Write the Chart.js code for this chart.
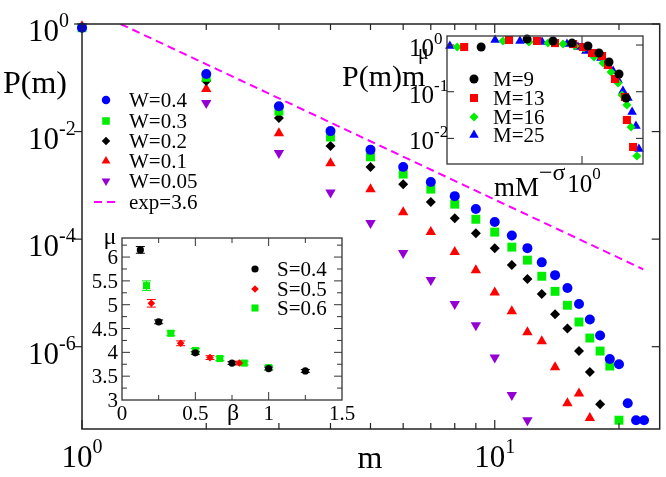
<!DOCTYPE html>
<html>
<head>
<meta charset="utf-8">
<script src="https://cdn.jsdelivr.net/npm/chart.js@4.4.1/dist/chart.umd.min.js"></script>
<style>
  body { margin: 0; background: #fff; }
  #wrap { position: relative; width: 666px; height: 477px; overflow: hidden; }
  canvas { position: absolute; }
  #labels { position: absolute; left: 0; top: 0; width: 666px; height: 477px; pointer-events: none; }
</style>
</head>
<body>
<div id="wrap">
  <canvas id="mainChart" width="666" height="477" style="left:0;top:0"></canvas>
  <canvas id="scaleInset" width="325" height="177" style="left:335px;top:28px"></canvas>
  <canvas id="muInset" width="265" height="203" style="left:85px;top:222px"></canvas>
  <div id="labels" style="font-family:'Liberation Serif'"></div>
</div>
<script>
// --- main plot: P(m) against m, one series per W ---
const mW04 = [1,2,3,4,5,6,7,8,9,10,11,12,13,14,15,16,17,18,19,20,21,22,23];
const pW04 = [0.851,0.1175,0.0295,0.0102,4.57e-3,2.19e-3,1.15e-3,6.3e-4,3.63e-4,2.09e-4,1.17e-4,6.8e-5,3.7e-5,2.14e-5,1.23e-5,6.2e-6,3.2e-6,1.62e-6,5.9e-7,4.7e-7,8.9e-8,4.3e-8,4.3e-8];
const mW03 = [1,2,3,4,5,6,7,8,9,10,11,12,13,14,15,16,17,18,19,20];
const pW03 = [0.851,0.102,0.024,7.9e-3,3.39e-3,1.62e-3,8.5e-4,4.47e-4,2.34e-4,1.35e-4,7.1e-5,4.07e-5,2.04e-5,1.07e-5,5.9e-6,2.88e-6,1.45e-6,8.3e-7,4.37e-7,4.3e-8];
const mW02 = [1,2,3,4,5,6,7,8,9,10,11,12,13,14,15,16,17,18];
const pW02 = [0.851,0.087,0.0178,5.4e-3,2.19e-3,1.05e-3,4.9e-4,2.45e-4,1.29e-4,6.8e-5,3.3e-5,1.82e-5,9.5e-6,4.0e-6,2.19e-6,8.3e-7,3.4e-7,8.5e-8];
const mW01 = [1,2,3,4,5,6,7,8,9,10,11,12,13,14,15,16,17];
const pW01 = [0.91,0.0617,9.3e-3,2.57e-3,8.5e-4,3.16e-4,1.35e-4,5.75e-5,2.63e-5,1.02e-5,4.57e-6,1.86e-6,1.26e-6,4.17e-7,8.9e-8,1.35e-7,4.7e-8];
const mW005 = [1,2,3,4,5,6,7,8,9,10,11,12];
const pW005 = [0.91,0.0339,3.98e-3,7.4e-4,2.0e-4,5.5e-5,1.74e-5,6.2e-6,2.5e-6,6.3e-7,1.26e-7,4.3e-8];
// dashed guide with exponent 3.6, end points
const fitM = [1.24, 22.9];
const fitP = [1, 2.75e-5];
const wLabels = ['W=0.4', 'W=0.3', 'W=0.2', 'W=0.1', 'W=0.05', 'exp=3.6'];
const mainYExps = [0, -2, -4, -6];
const mainXExps = [0, 1];
const mainXMinor = [2,3,4,5,6,7,8,9,20];

// --- top-right inset: scaling collapse, one series per M ---
const xM9  = [0.179,0.392,0.610,0.843,1.107,1.336,1.585,1.88,2.12];
const yM9  = [0.906,1.34,1.22,1.10,0.953,0.674,0.433,0.239,0.0733];
const xM13 = [0.134,0.288,0.464,0.631,0.858,1.017,1.186,1.407,1.559,1.755,2.08,2.15,2.39];
const yM13 = [0.906,1.28,1.22,1.10,1.05,0.906,0.674,0.581,0.373,0.187,0.077,0.0248,0.00655];
const xM16 = [0.119,0.260,0.405,0.560,0.723,0.888,1.035,1.227,1.432,1.64,1.85,1.98,2.15,2.31,2.55];
const yM16 = [0.906,1.22,1.16,1.10,1.05,0.953,0.863,0.553,0.412,0.264,0.154,0.085,0.052,0.0175,0.0042];
const xM25 = [0.105,0.227,0.347,0.506,0.774,0.934,1.07,1.38,1.56,1.70,1.85,2.01,2.19,2.35,2.51,2.64];
const yM25 = [0.953,1.28,1.22,1.16,1.05,0.906,0.744,0.527,0.355,0.277,0.178,0.104,0.073,0.0367,0.0184,0.0059];
const mLabels = ['M=9', 'M=13', 'M=16', 'M=25'];
const insetYExps = [0, -1, -2];

// --- bottom-left inset: mu against beta, with error bars ---
const betaS04 = [0.125,0.25,0.5,0.75,1.0,1.25];
const muS04   = [6.15,4.64,3.99,3.775,3.66,3.61];
const errS04  = [0.07,0.04,0.03,0.03,0.03,0.03];
const betaS05 = [0.2,0.4,0.6,0.8];
const muS05   = [5.03,4.19,3.89,3.775];
const errS05  = [0.08,0.05,0.04,0.04];
const betaS06 = [0.167,0.333,0.5,0.667,0.833,1.0];
const muS06   = [5.40,4.40,4.04,3.87,3.775,3.68];
const errS06  = [0.1,0.05,0.04,0.04,0.04,0.04];
const sLabels = ['S=0.4', 'S=0.5', 'S=0.6'];
const betaTicks = ['0', '0.5', '1', '1.5'];
const muTicks = ['3', '3.5', '4', '4.5', '5', '5.5', '6'];

function pts(xs, ys) { return ys.map((v, i) => ({ x: xs[i], y: v })); }

function hline(ctx, x1, y1, x2, y2) {
  ctx.beginPath(); ctx.moveTo(x1, y1); ctx.lineTo(x2, y2); ctx.stroke();
}

// text goes into the overlay as page text
const overlay = document.getElementById('labels');
function label(html, x, y, size, align) {
  const s = document.createElement('span');
  s.innerHTML = html;
  const tx = align === 'center' ? '-50%' : align === 'right' ? '-100%' : '0';
  s.setAttribute('style',
    "position:absolute;line-height:1;white-space:nowrap;color:#000;font-family:'Liberation Serif';" +
    'left:' + x + 'px;top:' + y + 'px;font-size:' + size + 'px;transform:translate(' + tx + ',-50%)');
  overlay.appendChild(s);
}
function sup(t, size, dy) {
  return "<span style=\"position:relative;font-family:'Liberation Serif';font-size:" + size + 'px;top:' + dy + 'px">' + t + '</span>';
}
function expText(e) { return e === 0 ? '0' : '-' + Math.abs(e); }

function drawMark(ctx, shape, x, y, r, color) {
  ctx.fillStyle = color;
  ctx.beginPath();
  if (shape === 'circle') ctx.arc(x, y, r, 0, Math.PI * 2);
  else if (shape === 'rect') { const s = r * Math.SQRT1_2; ctx.rect(x - s, y - s, 2 * s, 2 * s); }
  else if (shape === 'rectRot') { ctx.moveTo(x, y - r); ctx.lineTo(x + r, y); ctx.lineTo(x, y + r); ctx.lineTo(x - r, y); ctx.closePath(); }
  else {
    const d = shape === 'triangle' ? 1 : -1;
    ctx.moveTo(x, y - d * r); ctx.lineTo(x + r * 0.866, y + d * r / 2); ctx.lineTo(x - r * 0.866, y + d * r / 2); ctx.closePath();
  }
  ctx.fill();
}

function fixedAxis(type, min, max, size, isX) {
  return {
    type: type, min: min, max: max,
    ticks: { display: false }, grid: { display: false }, border: { display: false },
    afterFit(s) { if (isX) s.height = size; else s.width = size; }
  };
}

function whiteArea(chart) {
  const a = chart.chartArea;
  chart.ctx.save();
  chart.ctx.fillStyle = '#fff';
  chart.ctx.fillRect(a.left, a.top, a.right - a.left, a.bottom - a.top);
  chart.ctx.restore();
}

const BLUE = '#0000ff', GREEN = '#00ee00', RED = '#ff0000', PURPLE = '#9400d3', MAGENTA = '#ff00ff';

const mainMarks = [
  { shape: 'circle', r: 5, color: BLUE },
  { shape: 'rect', r: 6.3, color: GREEN },
  { shape: 'rectRot', r: 5, color: '#000' },
  { shape: 'triangle', r: 6, color: RED },
  { shape: 'triangleDown', r: 6, color: PURPLE }
];
const mainRows = [100, 121, 141, 161, 181, 202];

function scatterSet(lbl, data, mk) {
  return {
    label: lbl, data: data, showLine: false, clip: false,
    pointStyle: mk.shape === 'triangleDown' ? 'triangle' : mk.shape,
    rotation: mk.shape === 'triangleDown' ? 180 : 0,
    pointRadius: mk.r, pointBackgroundColor: mk.color, pointBorderWidth: 0,
    backgroundColor: mk.color, borderColor: mk.color
  };
}

// ---------- 1. main chart ----------
const mainDecor = {
  id: 'mainDecor',
  afterDraw(chart) {
    const { ctx, chartArea: a, scales: { x, y } } = chart;
    ctx.save();
    ctx.strokeStyle = '#222';
    ctx.lineWidth = 1.5;
    ctx.strokeRect(a.left, a.top, a.right - a.left, a.bottom - a.top);
    ctx.lineWidth = 1.2;
    mainYExps.forEach(e => {
      const py = y.getPixelForValue(Math.pow(10, e));
      hline(ctx, a.left - 8, py, a.left, py);
      hline(ctx, a.right - 8, py, a.right, py);
    });
    mainXExps.forEach(e => {
      const px = x.getPixelForValue(Math.pow(10, e));
      hline(ctx, px, a.bottom, px, a.bottom - 9);
      hline(ctx, px, a.top, px, a.top + 9);
    });
    mainXMinor.forEach(v => {
      const px = x.getPixelForValue(v);
      hline(ctx, px, a.bottom, px, a.bottom - 6);
      hline(ctx, px, a.top, px, a.top + 6);
    });
    mainMarks.forEach((mk, i) => drawMark(ctx, mk.shape, 106, mainRows[i], mk.r * 0.85, mk.color));
    ctx.strokeStyle = MAGENTA; ctx.lineWidth = 2; ctx.setLineDash([8, 5]);
    hline(ctx, 94, mainRows[5], 119, mainRows[5]);
    ctx.restore();
  }
};

const mainChart = new Chart(document.getElementById('mainChart'), {
  type: 'scatter',
  data: {
    datasets: [
      scatterSet(wLabels[0], pts(mW04, pW04), mainMarks[0]),
      scatterSet(wLabels[1], pts(mW03, pW03), mainMarks[1]),
      scatterSet(wLabels[2], pts(mW02, pW02), mainMarks[2]),
      scatterSet(wLabels[3], pts(mW01, pW01), mainMarks[3]),
      scatterSet(wLabels[4], pts(mW005, pW005), mainMarks[4]),
      {
        label: wLabels[5], data: pts(fitM, fitP), showLine: true, pointRadius: 0,
        borderColor: MAGENTA, borderWidth: 2, borderDash: [8, 5]
      }
    ]
  },
  options: {
    responsive: false, animation: false, devicePixelRatio: 1,
    layout: { padding: { left: 0, top: 24, right: 5, bottom: 0 } },
    plugins: { legend: { display: false }, tooltip: { enabled: false } },
    scales: {
      x: fixedAxis('logarithmic', 1, 25.1, 48, true),
      y: fixedAxis('logarithmic', 2.95e-8, 1, 82, false)
    }
  },
  plugins: [mainDecor]
});

// ---------- 2. top-right inset ----------
const scaleMarks = [
  { shape: 'circle', r: 4.5, color: '#000' },
  { shape: 'rect', r: 5.7, color: RED },
  { shape: 'rectRot', r: 4.5, color: GREEN },
  { shape: 'triangle', r: 5.5, color: BLUE }
];
const scaleRows = [51, 70, 89, 107];

const scaleDecor = {
  id: 'scaleDecor',
  beforeDraw: whiteArea,
  afterDraw(chart) {
    const { ctx, chartArea: a, scales: { x, y } } = chart;
    ctx.save();
    ctx.strokeStyle = '#333';
    ctx.lineWidth = 1.3;
    ctx.strokeRect(a.left, a.top, a.right - a.left, a.bottom - a.top);
    ctx.lineWidth = 1.1;
    insetYExps.forEach(e => {
      const py = y.getPixelForValue(Math.pow(10, e));
      hline(ctx, a.left, py, a.left + 7, py);
      hline(ctx, a.right, py, a.right - 7, py);
    });
    const px = x.getPixelForValue(1);
    hline(ctx, px, a.bottom, px, a.bottom - 8);
    hline(ctx, px, a.top, px, a.top + 8);
    scaleMarks.forEach((mk, i) => drawMark(ctx, mk.shape, 139, scaleRows[i], mk.r, mk.color));
    ctx.restore();
  }
};

const scaleChart = new Chart(document.getElementById('scaleInset'), {
  type: 'scatter',
  data: {
    datasets: [
      scatterSet(mLabels[0], pts(xM9, yM9), scaleMarks[0]),
      scatterSet(mLabels[1], pts(xM13, yM13), scaleMarks[1]),
      scatterSet(mLabels[2], pts(xM16, yM16), scaleMarks[2]),
      scatterSet(mLabels[3], pts(xM25, yM25), scaleMarks[3])
    ]
  },
  options: {
    responsive: false, animation: false, devicePixelRatio: 1,
    layout: { padding: { left: 0, top: 8, right: 17, bottom: 0 } },
    plugins: { legend: { display: false }, tooltip: { enabled: false } },
    scales: {
      x: fixedAxis('logarithmic', 0.1, 2.83, 41, true),
      y: fixedAxis('logarithmic', 2.83e-3, 1.56, 112, false)
    }
  },
  plugins: [scaleDecor]
});

// ---------- 3. bottom-left inset ----------
const muMarks = [
  { shape: 'circle', r: 3.6, color: '#000' },
  { shape: 'rectRot', r: 3.8, color: RED },
  { shape: 'rect', r: 5, color: GREEN }
];
const muRows = [47, 67, 86];
const muErrors = [errS04, errS05, errS06];

const muDecor = {
  id: 'muDecor',
  beforeDraw: whiteArea,
  beforeDatasetsDraw(chart) {
    const { ctx, scales: { y } } = chart;
    ctx.save();
    ctx.lineWidth = 1;
    chart.data.datasets.forEach((ds, i) => {
      ctx.strokeStyle = muMarks[i].color;
      chart.getDatasetMeta(i).data.forEach((pt, j) => {
        const v = ds.data[j].y, e = muErrors[i][j];
        const y1 = y.getPixelForValue(v + e), y2 = y.getPixelForValue(v - e);
        hline(ctx, pt.x, y1, pt.x, y2);
        hline(ctx, pt.x - 4.5, y1, pt.x + 4.5, y1);
        hline(ctx, pt.x - 4.5, y2, pt.x + 4.5, y2);
      });
    });
    ctx.restore();
  },
  afterDraw(chart) {
    const { ctx, chartArea: a, scales: { x, y } } = chart;
    ctx.save();
    ctx.strokeStyle = '#333';
    ctx.lineWidth = 1.3;
    ctx.strokeRect(a.left, a.top, a.right - a.left, a.bottom - a.top);
    ctx.lineWidth = 1;
    for (let v = 0.25; v < 1.5; v += 0.25) {
      const px = x.getPixelForValue(v);
      const len = Math.abs(v * 2 - Math.round(v * 2)) < 1e-6 ? 8 : 5;
      hline(ctx, px, a.bottom, px, a.bottom - len);
      hline(ctx, px, a.top, px, a.top + len);
    }
    for (let v = 3.25; v < 6.4; v += 0.25) {
      const py = y.getPixelForValue(v);
      const len = Math.abs(v * 2 - Math.round(v * 2)) < 1e-6 ? 8 : 5;
      hline(ctx, a.left, py, a.left + len, py);
      hline(ctx, a.right, py, a.right - len, py);
    }
    muMarks.forEach((mk, i) => drawMark(ctx, mk.shape, 170, muRows[i], mk.r, mk.color));
    ctx.restore();
  }
};

const muChart = new Chart(document.getElementById('muInset'), {
  type: 'scatter',
  data: {
    datasets: [
      scatterSet(sLabels[0], pts(betaS04, muS04), muMarks[0]),
      scatterSet(sLabels[1], pts(betaS05, muS05), muMarks[1]),
      scatterSet(sLabels[2], pts(betaS06, muS06), muMarks[2])
    ]
  },
  options: {
    responsive: false, animation: false, devicePixelRatio: 1,
    layout: { padding: { left: 0, top: 16, right: 8, bottom: 0 } },
    plugins: { legend: { display: false }, tooltip: { enabled: false } },
    scales: {
      x: fixedAxis('linear', 0, 1.5, 25, true),
      y: fixedAxis('linear', 3, 6.4, 37, false)
    }
  },
  plugins: [muDecor]
});

// ---------- text, placed from the charts' own scales ----------
(function placeText() {
  const mx = mainChart.scales.x, my = mainChart.scales.y;
  mainYExps.forEach(e => {
    label('10' + sup(expText(e), 20, -14), 28, my.getPixelForValue(Math.pow(10, e)) + 6, 31, 'left');
  });
  mainXExps.forEach(e => {
    label('10' + sup(String(e), 20, -14), mx.getPixelForValue(Math.pow(10, e)), 456, 31, 'center');
  });
  label('P(m)', 3, 82, 32, 'left');
  label('m', 370, 457, 32, 'center');
  wLabels.forEach((t, i) => label(t, 129, mainRows[i], 21, 'left'));

  // top-right inset (canvas sits at 335, 28)
  const ox = 335, oy = 28;
  const sx = scaleChart.scales.x, sy = scaleChart.scales.y;
  insetYExps.forEach(e => {
    label('10' + sup(expText(e), 17, -12), ox + 74, oy + sy.getPixelForValue(Math.pow(10, e)) + 2, 25, 'left');
  });
  label('10' + sup('0', 17, -13), ox + sx.getPixelForValue(1) + 2, 183, 25, 'center');
  label('mM' + sup('\u2212\u03c3', 24, -16), 494, 187, 27, 'left');
  label('P(m)m', 342, 76, 30, 'left');
  label('\u03bc', 418, 52, 20, 'left');
  mLabels.forEach((t, i) => label(t, ox + 158, oy + scaleRows[i], 21, 'left'));

  // bottom-left inset (canvas sits at 85, 222)
  const bx = 85, by = 222;
  const ux = muChart.scales.x, uy = muChart.scales.y;
  betaTicks.forEach(t => label(t, bx + ux.getPixelForValue(parseFloat(t)), 413, 21, 'center'));
  muTicks.forEach(t => label(t, bx + 33, by + uy.getPixelForValue(parseFloat(t)), 21, 'right'));
  label('\u03bc', 110, 236, 24, 'center');
  label('\u03b2', 233, 412, 24, 'center');
  sLabels.forEach((t, i) => label(t, bx + 192, by + muRows[i], 21, 'left'));
})();
</script>
</body>
</html>
